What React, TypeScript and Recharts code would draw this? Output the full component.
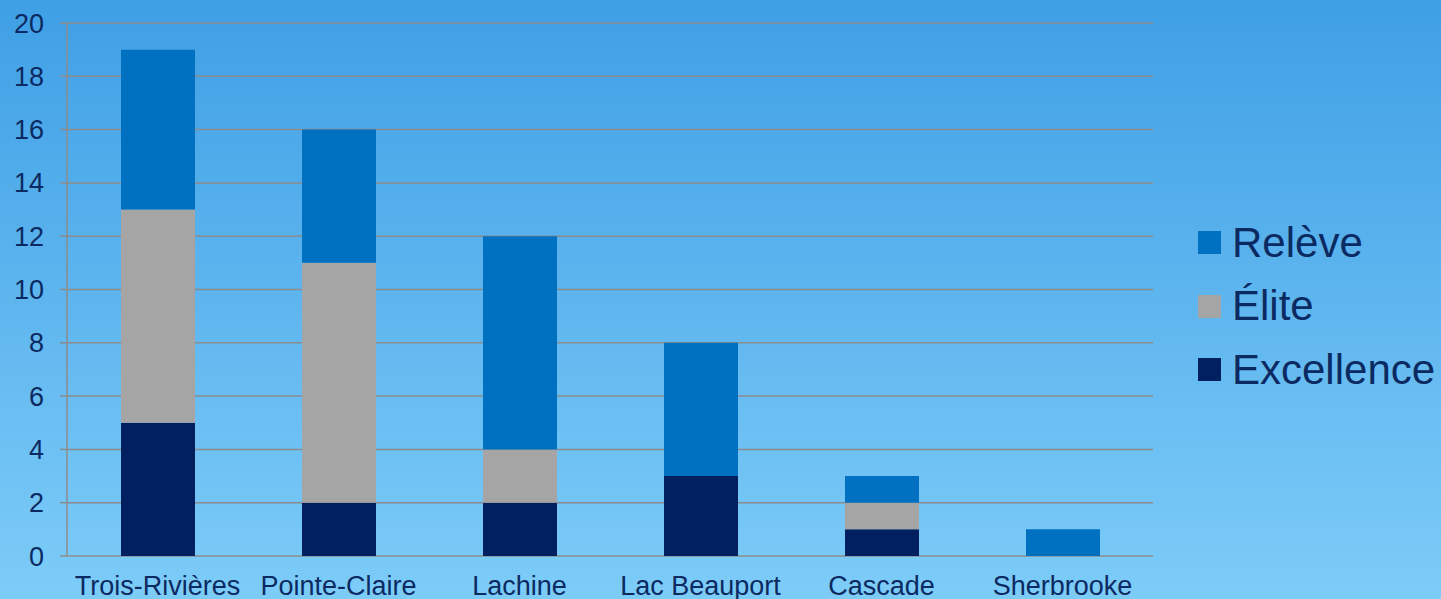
import { BarChart, Bar, XAxis, YAxis, CartesianGrid } from 'recharts';

const CLUBS = ['Trois-Rivières', 'Pointe-Claire', 'Lachine', 'Lac Beauport', 'Cascade', 'Sherbrooke'];
const EXCELLENCE = [5, 2, 2, 3, 1, 0];
const ELITE = [8, 9, 2, 0, 1, 0];
const RELEVE = [6, 5, 8, 5, 1, 1];
const Y_TICKS = [0, 2, 4, 6, 8, 10, 12, 14, 16, 18, 20];
const BOUNDARY_TICKS = [0, 1, 2, 3, 4, 5, 6];

const SERIES = [
  { key: 'excellence', label: 'Excellence', color: '#002060' },
  { key: 'elite', label: 'Élite', color: '#A5A5A5' },
  { key: 'releve', label: 'Relève', color: '#0070C0' },
];

const TEXT = '#0b2a62';
const GRID = '#8c8c8c';
const FONT = '"Liberation Sans", Arial, sans-serif';

const data = CLUBS.map((club, i) => ({
  club,
  excellence: EXCELLENCE[i],
  elite: ELITE[i],
  releve: RELEVE[i],
}));

function LegendBox() {
  // legend lists the top of the stack first
  const items = [...SERIES].reverse();
  return (
    <div style={{ position: 'absolute', left: 1198, top: 211, fontFamily: FONT }}>
      {items.map((s) => (
        <div key={s.key} style={{ display: 'flex', alignItems: 'center', height: 63.5 }}>
          <span style={{ width: 23, height: 23, background: s.color, marginRight: 11, display: 'inline-block' }} />
          <span style={{ fontSize: 42, color: TEXT, lineHeight: 1 }}>{s.label}</span>
        </div>
      ))}
    </div>
  );
}

export default function App() {
  return (
    <div
      style={{
        position: 'absolute', left: 0, top: 0, width: 1441, height: 599, overflow: 'hidden',
        background: 'linear-gradient(to bottom, #3f9fe5 0%, #7dccf8 100%)',
      }}
    >
      <BarChart
        width={1441}
        height={599}
        data={data}
        margin={{ top: 23, right: 288, bottom: 0, left: 0 }}
      >
        <CartesianGrid horizontal vertical={false} stroke={GRID} strokeWidth={1.5} yAxisId="y" xAxisId="cat" />
        <XAxis
          xAxisId="ticks"
          type="number"
          domain={[0, 6]}
          ticks={BOUNDARY_TICKS}
          tick={false}
          tickSize={7}
          height={0}
          axisLine={{ stroke: GRID, strokeWidth: 1.5 }}
          tickLine={{ stroke: GRID, strokeWidth: 1.5 }}
          allowDataOverflow
        />
        <XAxis
          xAxisId="cat"
          dataKey="club"
          height={43}
          axisLine={false}
          tickLine={false}
          tickSize={0}
          tickMargin={20}
          interval={0}
          tick={{ fill: TEXT, fontSize: 27, fontFamily: FONT }}
        />
        <YAxis
          yAxisId="y"
          domain={[0, 20]}
          ticks={Y_TICKS}
          interval={0}
          width={67}
          tickSize={7}
          tickMargin={16}
          axisLine={{ stroke: GRID, strokeWidth: 1.5 }}
          tickLine={{ stroke: GRID, strokeWidth: 1.5 }}
          tick={{ fill: TEXT, fontSize: 27, fontFamily: FONT }}
        />
        {SERIES.map((s) => (
          <Bar
            key={s.key}
            dataKey={s.key}
            name={s.label}
            stackId="a"
            xAxisId="cat"
            yAxisId="y"
            fill={s.color}
            barSize={74}
            isAnimationActive={false}
          />
        ))}
      </BarChart>
      <LegendBox />
    </div>
  );
}
